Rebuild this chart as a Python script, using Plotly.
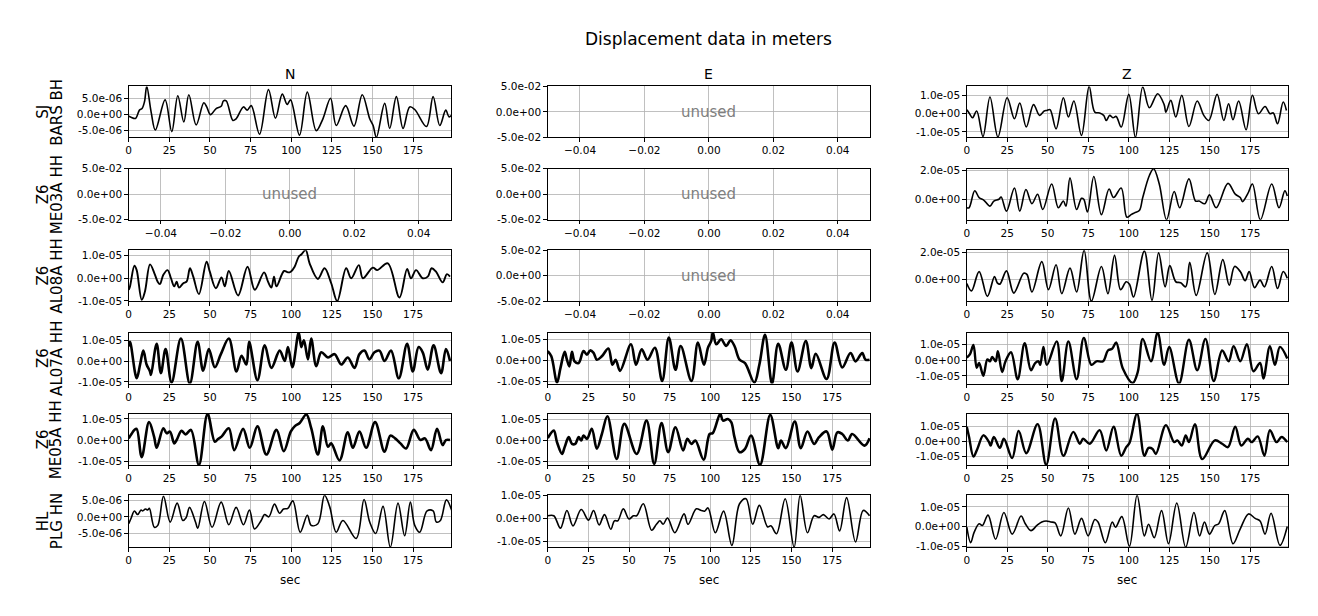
import plotly.graph_objects as go

W, H = 1318, 616
SCALE = 1e-6  # values below are in micrometres

# ---------------- data (time in s, displacement in 1e-6 m) ----------------
t_bars_n = [0,1.4,4.1,6.6,8.2,9.7,11.1,13.8,16.4,22.4,26.5,30.2,33.9,37.0,41.5,46.2,48.0,50.3,53.8,56.9,
            58.3,60.0,64.1,66.1,70.6,72.9,75.4,80.5,86.0,90.3,94.5,97.5,99.6,105.1,109.9,115.4,119.5,124.2,127.7,133.5,
            138.6,143.7,148.3,150.4,152.4,157.5,160.6,164.7,168.8,172.9,176.0,183.2,187.3,191.4,195.1,197.1,199.0]
v_bars_n = [-0.5,-0.8,-1.2,1.4,1.9,4.0,8.8,0.8,-4.8,4.6,-5.3,5.9,-2.3,6.2,-3.2,3.7,2.4,0.0,1.9,2.6,
            4.3,4.3,-1.8,-1.3,2.4,1.4,2.8,-6.1,7.8,-1.1,6.4,3.2,4.6,-6.4,7.0,-5.0,-1.3,5.1,-3.4,2.8,
            -3.6,6.2,-1.3,-3.4,-7.1,3.5,-4.3,5.6,-4.3,2.4,1.6,-3.7,5.6,-3.4,1.4,-0.7,0.0]

t_bars_z = [0,1.4,3.5,6.1,10.0,14.3,19.2,24.9,29.4,32.7,36.7,41.2,44.9,47.8,49.4,51.4,55.1,59.6,62.7,66.1,
            70.8,75.5,79.0,82.0,84.5,86.1,88.2,90.2,92.2,95.3,100.0,104.1,108.6,112.7,117.8,121.8,122.9,125.9,129.0,132.7,
            137.1,142.2,146.3,149.4,154.5,158.6,161.6,164.3,167.8,172.4,176.3,180.0,184.1,187.1,189.2,191.8,195.3,197.3]
v_bars_z = [2.2,0.4,-2.2,1.5,-12.5,9.2,-12.8,8.8,-2.8,5.9,-7.3,5,-0.9,1.5,1.8,2.2,-8.3,8.8,-1.8,7,
            -11.9,15,0.9,0.4,-0.9,-3.7,-0.9,-2.2,-1.5,-7.3,10.6,-13,14.7,3.3,11,5,0.9,7.3,-1.8,10.1,
            -7,7,-0.9,-3.7,10.6,-3.7,5.5,-3.3,7,-8.8,10.1,0,4,0,0.4,-5.5,6.4,1.8]

t_me03a_z = [0,1.4,4.9,7.6,10.6,14.3,16.7,19.8,21.2,24.5,29.4,32.7,36.5,40.2,43.7,46.9,52.4,56.5,59.6,61.2,
             63.7,67.8,70.8,72.2,74.5,78.4,83.1,87.8,90.6,95.3,98.8,101.4,103.5,106.5,108.6,112.7,115.3,118.8,123.3,128.0,
             131.4,137.1,141.2,143.3,146.9,149.8,153.9,161.2,165.7,168.8,170.2,173.5,176.3,181.2,188.2,192.7,196.3,197.8]
v_me03a_z = [-5.8,-5.8,5.8,1.2,-0.7,-4.7,-1.2,0,1.6,-8.1,7.7,-8.1,6.7,-3,3.5,-7,10.5,-5.8,-1.2,-4.7,
             14.7,-7,0.7,0,-8.6,15.6,-10.5,7,1.2,7.7,-12.3,-10.5,-9.3,-7.7,1.2,16.3,20.9,10.5,-14,5.3,
             -5.8,14,-1.2,-1.2,-3,3,-5.8,10.9,3.5,1.2,-1.6,4,10.5,-14,10.5,-5.8,5.8,2.3]

t_al08a_n = [0,0.8,3.5,4.9,8.0,10.0,13.1,15.8,17.8,19.2,21.3,23.9,26.0,28.0,29.5,30.9,33.6,35.6,37.7,39.7,
             43.2,47.9,49.9,53.6,57.1,59.1,61.6,67.3,73.1,77.6,83.3,85.7,87.8,89.4,90.9,95.6,98.0,99.7,102.1,104.6,
             106.2,108.9,111.3,116.4,120.5,124.6,128.3,133.8,136.9,141.6,144.1,150.2,152.9,159.4,166.6,171.3,173.7,176.8,180.9,184.0,
             186.4,189.1,193.2,195.8,197.7]
v_al08a_n = [-5.1,-3.6,5.5,3.6,-9.5,-5.8,6.1,2.2,-1.5,-2.6,1.5,3.6,0,-3.6,-1.5,-4.1,-2.2,-1.5,4.4,0.7,
             -7.0,7.3,2.9,-4.4,0.3,-3.6,3.2,-7.6,5.1,-5.1,2.6,-1.5,-4.1,0.7,-3.6,3.2,2.6,2.9,5.1,9.5,
             10.5,12.4,6.6,-0.3,4.4,-2.2,-10.1,4.4,0,5.8,0,4.7,3.6,6.6,-8.5,4.1,0,3.6,0,0.7,
             4.4,2.9,-1.8,1.8,0.7]

t_al08a_z = [0,2.9,7.6,12.7,17.1,18.8,20.4,24.5,29.0,35.1,37.1,40.2,46.3,50.4,55.1,58.6,63.7,67.8,72.4,76.9,
             83.1,87.1,91.2,94.9,98.4,100.4,102.9,109.6,114.3,118.4,122.4,125.3,129.0,132.0,135.1,137.6,141.6,148.4,153.1,158.0,
             162.0,165.3,168.8,171.8,174.3,177.6,181.0,183.7,188.2,191.8,195.3,197.8]
v_al08a_z = [-3.1,-8.7,5.9,-12.8,2.1,-2.6,-3.6,6.4,-10.3,4.6,3.8,-9.5,13.3,-7.7,11,-10.8,8.5,-9.5,22,-16.4,
             9.7,-10.8,18,-7.7,-1.8,-3.6,-13.3,21.3,-15.9,20,-5.6,10.3,-1.8,-2.6,-5.6,12.8,-12.1,20,-11.3,14.9,
             -4.4,9.7,5.9,-1,5.9,-6.2,-0.5,-5.6,9.7,-6.9,5.9,0.8]

t_al07a_n = [0,0.8,4.9,7.0,9.0,11.0,13.1,13.7,17.2,19.8,22.7,26.4,32.1,37.6,42.4,45.8,49.3,53.0,56.7,61.6,
             66.3,69.4,72.4,74.1,79.2,83.7,87.8,92.9,96.0,98.0,100.7,104.6,106.2,107.8,110.3,112.3,115.4,118.5,122.6,126.7,
             130.8,134.8,138.9,142.0,145.1,148.1,151.2,154.3,157.4,161.4,166.2,171.3,174.8,178.4,180.9,184.0,187.6,192.2,195.2,197.7]
v_al07a_n = [7,9.2,-8.3,-1.7,5,-1.7,-5,-6.7,8.3,-5.8,5.8,-10.3,10.8,-10.8,9.2,-4.7,5.8,-3,3.3,10.8,
             -5,2.5,-1.7,9.2,-9.2,7.5,-3.3,5,0,6.7,-3,13.7,6.7,10,0.8,10.8,-2.5,4.2,1.7,3.3,
             -1.7,1.7,-3.3,3.3,5,0.8,4.2,5,0,5,-8.3,8.3,-5,6.7,4.2,-4.2,7.5,-5.8,5.8,0]

t_al07a_e = [0,2.2,5.7,7.8,10.4,11.8,13.3,14.9,16.5,19.0,22.0,24.1,26.1,28.2,30.2,33.3,37.3,39.8,41.8,44.5,
             51.2,54.3,57.8,61.4,65.9,70.4,74.5,78.6,81.8,88.4,92.4,96.1,98.6,100.6,101.6,103.7,106.7,109.8,112.4,114.9,
             118.0,121.4,127.1,130.2,133.7,138.0,141.8,146.5,150.0,153.7,158.8,162.2,164.9,171.6,176.5,181.2,186.3,189.4,193.5,195.5,198.0]
v_al07a_e = [4.4,1.9,-10.5,-3.7,4,0.3,-2.9,4,-0.5,-1.3,4.4,2.7,4.7,3.5,0.3,1.9,5.6,-2.1,0.3,-5,
             7.6,-2.1,5.2,0.3,6,-9.8,10.8,-4.5,6.8,-9.8,8.4,-2.1,6,9.2,13.2,7.6,10,6.8,9.5,6.8,
             0.3,-1.3,-10.5,-2.1,12.1,-11,7.9,-4.5,8.4,-5.3,9.2,-3.7,3.1,-8.9,8.4,-3.4,3.5,-0.5,3.5,0.3,0.3]

t_al07a_z = [0,2.0,4.1,6.1,7.6,10.2,12.7,14.3,15.7,17.8,19.2,21.8,23.9,27.3,31.4,35.7,39.6,42.2,44.3,45.3,
             47.3,49.4,55.5,58.6,62.7,67.8,72.2,76.9,80.0,84.1,87.1,89.8,92.2,96.3,102.4,105.5,108.6,113.7,117.8,121.8,
             124.9,131.0,137.1,142.2,147.3,152.4,157.6,161.6,164.7,168.8,172.9,176.9,181.0,183.1,187.1,190.2,193.3,197.8]
v_al07a_z = [1.6,3.9,9.7,-4.8,-1.8,-9.9,0.5,-0.7,2.1,-0.7,5.7,-7.6,-0.7,5.1,-12.2,10.8,-6.4,-1.8,-0.7,-3,
             8.5,-3,12,-13.3,12,-12.2,14.3,-3,-0.7,-0.7,6.2,7.4,11.3,-5.3,-14.5,-7.6,13.6,-0.7,17.7,-3,
             8.5,-14.9,13.1,-6.4,13.6,-13.3,6.2,-0.7,9,-0.7,10.3,-7.1,-1.8,-11.7,9,-3,8.5,1.1]

t_me05a_n = [0,1.8,3.5,4.9,8.0,12.5,15.6,17.2,21.3,23.3,25.4,28.0,29.5,32.5,35.0,38.3,43.2,48.5,53.0,55.0,
             57.1,61.6,64.9,70.4,74.5,79.2,84.7,90.9,95.4,99.7,102.1,105.2,109.3,112.3,116.4,119.5,122.6,124.6,129.7,134.8,
             137.9,142.0,146.1,151.6,157.4,161.0,163.9,167.2,170.7,175.4,179.5,182.3,186.0,189.7,193.2,195.2,197.7]
v_me05a_n = [0.8,3,4.8,5.3,-8.1,8.5,1.6,-3.7,5.6,3.2,4,-1.6,0,4.4,2.7,4.8,-11.8,12.4,-0.8,0.5,
             1.6,5.6,-4.8,5.3,-3.7,6.5,-6.9,4.8,-5.3,4,6.5,8.1,12.1,5.6,-6.9,6.5,-3.2,-1.6,-9.7,3.7,
             -3.7,4,-3.7,8.5,-5.6,2.1,0.8,-1.6,-4,4.8,0,0.8,-4.8,5.3,-2.4,0,0]

t_me05a_e = [0,3.7,5.7,8.8,10.4,12.9,14.9,16.9,19.0,20.6,22.0,24.1,27.1,30.2,33.3,36.7,42.4,47.1,54.7,60.8,
             65.5,70.0,74.1,78.6,83.3,85.9,88.4,90.8,95.9,99.6,101.6,106.1,107.8,110.8,112.9,114.9,118.0,121.4,125.1,130.6,
             136.9,141.8,143.5,146.5,152.0,155.7,159.8,163.9,166.9,171.6,175.1,178.2,181.2,184.7,187.3,194.9,198.0]
v_me05a_e = [1.1,4.7,-0.8,-6.3,-3.1,1.6,-1.6,-1.6,1.6,0,2.4,0.8,5.5,-3.9,3.1,11.5,-8.7,7.9,-6.3,9.4,
             -11,8.3,-5.5,6.3,-4.7,0.8,-1.6,0,-9,3.1,3.6,12.6,9.4,10.2,8.7,1.6,-5.5,-3.9,2.4,-11.5,
             12.1,-3.6,0,-3.6,9,-3.6,4.3,-1.6,1.6,4.3,-4.3,3.9,3.1,0,3.1,-2.4,1.1]

t_me05a_z = [0,1.4,4.1,6.5,10.2,13.7,14.7,16.7,20.4,22.9,28.0,32.0,36.7,43.7,49.0,54.5,59.6,65.7,69.8,71.8,
             75.9,82.0,86.1,90.6,95.3,98.4,100.4,105.1,109.6,112.2,114.7,116.7,122.9,128.0,130.0,132.7,135.1,137.1,140.8,145.3,
             153.1,157.6,161.2,165.7,169.4,173.5,175.9,179.6,183.7,187.1,191.2,194.3,197.8]
v_me05a_z = [9.9,3,-10.3,-5.1,4.1,-0.5,-2.8,3,-4.4,1.8,-11.3,7.1,-8,11.7,-15.9,15.6,-9.7,6.4,-1.6,1.8,
             -1.6,7.6,-6.2,9.9,-9.7,-3.9,-1.1,18.6,-9.7,-4.4,-5.1,-8.5,11,-0.5,0.7,-2.8,4.1,-0.5,11.7,-12,
             0.7,-1.6,-3.9,9.9,-2.8,1.8,-0.5,3.4,-9.7,7.6,-0.5,3,-0.5]

t_plg_n = [0,1.4,3.5,5.5,7.6,8.6,10.3,11.7,12.7,15.8,17.9,21.4,25.5,29.8,33.3,35.3,37.4,41.1,42.5,46.6,
           51.3,56.9,61.6,66.1,70.6,74.3,77.4,81.5,83.6,86.2,89.7,92.8,95.3,97.9,101.0,105.5,109.9,112.3,116.4,120.5,
           123.6,127.7,131.8,140.0,144.8,148.3,152.0,156.5,161.0,165.7,169.8,173.3,176.0,179.1,183.6,187.3,189.3,191.8,195.5,199.0]
v_plg_n = [-2.1,-0.5,1.8,0.7,2.1,1.8,2.4,2.1,2.6,-3.2,-2.6,6.3,-1.6,4.2,-1.1,-0.3,2.9,-1.6,-3.5,4.7,
           -3.2,4.5,-2.4,2.9,-2.4,2.1,-3.7,-1.1,0.7,0,3.9,1.1,2.4,2.6,4.9,-4.7,0.5,-2.6,-2.1,6.6,
           3.2,-4.7,-1.1,-6.6,5.3,-1.6,-5.1,3.2,-9.3,4.2,-5.8,4.5,-2.6,-4.7,1.8,1.8,-1.6,-1.1,5.2,1.6]

t_plg_e = [0,3.7,7.8,11.8,15.5,20.6,25.1,28.2,31.6,34.9,38.8,41.0,43.1,46.5,50.0,52.7,54.7,58.8,63.9,66.9,
           69.0,71.0,73.7,78.2,83.9,86.3,91.4,94.5,96.5,98.6,103.1,108.2,113.3,118.0,122.0,126.1,130.2,135.3,137.3,140.8,
           146.1,151.6,155.3,159.8,163.9,166.9,169.6,173.1,176.1,179.6,183.9,189.4,194.1,198.0]
v_plg_e = [1.3,1.3,-4.1,3.6,-3.1,4,-0.6,3.6,-2.7,1.8,-4.6,-0.9,-0.9,4.3,-0.1,1.3,1.3,6.5,-5,-2.4,
           -0.9,-2.4,0.3,-6.1,2.1,-2.4,4.3,3.6,3.3,4.7,-6.1,3.3,-11.6,6.5,8.7,-2.4,5.8,-3.6,-3.1,-6.5,
           8.7,-12.4,10.2,-6.1,1.3,0.6,1.8,-0.1,2.1,-5.3,9.2,-10.1,3.6,1.3]

t_plg_z = [0,2.4,4.5,7.6,9.6,13.1,17.8,22.9,28.0,33.5,36.1,39.6,43.3,46.3,49.0,51.8,54.5,58.0,62.7,66.7,
           70.8,74.9,79.0,81.0,85.5,89.8,91.8,95.7,100.4,105.1,109.6,112.2,115.7,120.2,124.5,129.6,135.1,140.2,143.7,146.7,
           149.8,153.1,155.5,159.2,164.3,168.8,173.9,178.0,181.0,184.1,187.8,193.3,197.8]
v_plg_z = [-0.4,-8.3,-3,1.4,0.5,5.8,-6.5,7.1,-3.9,5.3,1.4,-2.1,0.5,2.3,2.8,2.3,1.8,-4.8,9.4,-3.9,
           4.1,-4.8,3.5,2.3,-8.3,2.3,-0.4,5,-10.1,15.9,-4.8,1.1,-5.7,8.1,-8.8,12,-10.6,7.1,-4.8,2.3,
           -3.9,0.5,1.4,8.1,-8.8,-1.2,6.4,4.1,2.8,-3.9,6.7,-9.6,0]

# ---------------- labels / ticks ----------------
title_text = "Displacement data in meters"
comp_titles = ["N", "E", "Z"]
row_labels = [("SJ", "BARS BH"), ("Z6", "ME03A HH"), ("Z6", "AL08A HH"),
              ("Z6", "AL07A HH"), ("Z6", "ME05A HH"), ("HL", "PLG HN")]
x_ticks = [0, 25, 50, 75, 100, 125, 150, 175]
x_ticktext = ["0", "25", "50", "75", "100", "125", "150", "175"]
ticks_5e6 = ([5e-6, 0, -5e-6], ["5.0e-06", "0.0e+00", "-5.0e-06"])
ticks_1e5 = ([1e-5, 0, -1e-5], ["1.0e-05", "0.0e+00", "-1.0e-05"])
ticks_2e5 = ([2e-5, 0], ["2.0e-05", "0.0e+00"])
unused_xticks = ([-0.04, -0.02, 0.0, 0.02, 0.04], ["\u22120.04", "\u22120.02", "0.00", "0.02", "0.04"])
unused_yticks = ([0.05, 0.0, -0.05], ["5.0e-02", "0.0e+00", "-5.0e-02"])

# panel table: (t, v, y-ticks, line width) or None for unused
panels = [
    [(t_bars_n, v_bars_n, ticks_5e6, 1.6), None, (t_bars_z, v_bars_z, ticks_1e5, 1.6)],
    [None, None, (t_me03a_z, v_me03a_z, ticks_2e5, 1.6)],
    [(t_al08a_n, v_al08a_n, ticks_1e5, 1.9), None, (t_al08a_z, v_al08a_z, ticks_2e5, 1.7)],
    [(t_al07a_n, v_al07a_n, ticks_1e5, 2.6), (t_al07a_e, v_al07a_e, ticks_1e5, 2.6), (t_al07a_z, v_al07a_z, ticks_1e5, 2.4)],
    [(t_me05a_n, v_me05a_n, ticks_1e5, 2.6), (t_me05a_e, v_me05a_e, ticks_1e5, 2.6), (t_me05a_z, v_me05a_z, ticks_1e5, 2.4)],
    [(t_plg_n, v_plg_n, ticks_5e6, 1.6), (t_plg_e, v_plg_e, ticks_1e5, 1.6), (t_plg_z, v_plg_z, ticks_1e5, 1.6)],
]

# ---------------- geometry (pixels) ----------------
col_px = [(126, 449), (546, 869), (966, 1288)]
row_px = [(82, 134), (166, 218), (249, 301), (333, 385), (416, 468), (499, 552)]
TITLE_Y, COLTITLE_Y, XLABEL_Y = 34, 69, 585
X_MAX = 198.3
FONT = "DejaVu Sans"

fig = go.Figure()
layout = dict(width=W, height=H, margin=dict(l=0, r=0, t=0, b=0, pad=0), autosize=False,
              paper_bgcolor="white", plot_bgcolor="white", showlegend=False,
              font=dict(family=FONT, color="black"))
annotations = []

axis_common = dict(showline=True, mirror=True, linecolor="black", linewidth=1,
                   ticks="outside", ticklen=3.5, tickwidth=1, tickcolor="black",
                   showgrid=True, gridcolor="#b0b0b0", gridwidth=0.8, zeroline=False,
                   tickfont=dict(family=FONT, size=10.5, color="black"), tickmode="array")

for r in range(6):
    for c in range(3):
        k = r * 3 + c + 1
        xn = "xaxis" if k == 1 else f"xaxis{k}"
        yn = "yaxis" if k == 1 else f"yaxis{k}"
        xr = "x" if k == 1 else f"x{k}"
        yr = "y" if k == 1 else f"y{k}"
        x0, x1 = col_px[c]
        y0, y1 = row_px[r]
        p = panels[r][c]
        if p is None:
            fig.add_trace(go.Scatter(x=[], y=[], xaxis=xr, yaxis=yr, mode="lines"))
            layout[xn] = dict(axis_common, domain=[x0 / W, x1 / W], anchor=yr,
                              range=[-0.05, 0.05], tickvals=unused_xticks[0], ticktext=unused_xticks[1])
            layout[yn] = dict(axis_common, domain=[1 - y1 / H, 1 - y0 / H], anchor=xr,
                              range=[-0.05005, 0.05005], tickvals=unused_yticks[0], ticktext=unused_yticks[1])
            annotations.append(dict(x=0, y=0, xref=xr, yref=yr, text="unused", showarrow=False,
                                    xanchor="center", yanchor="middle",
                                    font=dict(family=FONT, size=15, color="gray")))
        else:
            t, v, yt, lw = p
            yv = [val * SCALE for val in v]
            fig.add_trace(go.Scatter(x=t, y=yv, xaxis=xr, yaxis=yr, mode="lines",
                                     line=dict(color="black", width=lw, shape="spline", smoothing=1.0),
                                     hoverinfo="skip"))
            layout[xn] = dict(axis_common, domain=[x0 / W, x1 / W], anchor=yr,
                              range=[0, X_MAX], tickvals=x_ticks, ticktext=x_ticktext)
            layout[yn] = dict(axis_common, domain=[1 - y1 / H, 1 - y0 / H], anchor=xr,
                              range=[min(yv), max(yv)], tickvals=yt[0], ticktext=yt[1])

# row labels (two rotated lines)
for r, (l1, l2) in enumerate(row_labels):
    yc = 1 - (row_px[r][0] + row_px[r][1]) / 2 / H
    for txt, xp in ((l1, 40), (l2, 54)):
        annotations.append(dict(x=xp / W, y=yc, xref="paper", yref="paper", text=txt,
                                textangle=-90, showarrow=False, xanchor="center", yanchor="middle",
                                font=dict(family=FONT, size=15, color="black")))

# column titles and x labels
for c, name in enumerate(comp_titles):
    xc = (col_px[c][0] + col_px[c][1]) / 2 / W
    annotations.append(dict(x=xc, y=1 - COLTITLE_Y / H, xref="paper", yref="paper", text=name,
                            showarrow=False, xanchor="center", yanchor="middle",
                            font=dict(family=FONT, size=14, color="black")))
    annotations.append(dict(x=xc, y=1 - XLABEL_Y / H, xref="paper", yref="paper", text="sec",
                            showarrow=False, xanchor="center", yanchor="middle",
                            font=dict(family=FONT, size=12, color="black")))

annotations.append(dict(x=707 / W, y=1 - TITLE_Y / H, xref="paper", yref="paper", text=title_text,
                        showarrow=False, xanchor="center", yanchor="middle",
                        font=dict(family=FONT, size=17, color="black")))

layout["annotations"] = annotations
fig.update_layout(**layout)
fig.write_html("out.html",
               config={"displayModeBar": False, "staticPlot": True},
               post_script=("document.documentElement.style.margin='0px';"
                            "document.documentElement.style.overflow='hidden';"
                            "document.body.style.margin='0px';document.body.style.padding='0px';"
                            "document.body.style.overflow='hidden';"
                            "var gd=document.getElementById('{plot_id}');"
                            "gd.style.position='fixed';gd.style.top='0px';gd.style.left='0px';"))
